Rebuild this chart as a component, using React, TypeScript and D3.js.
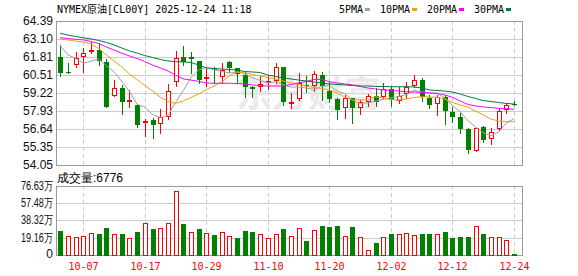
import React from 'react';
import * as d3 from 'd3';

const dates = [
  '10-02','10-03','10-06','10-07','10-08','10-09','10-10','10-13','10-14','10-15','10-16','10-17','10-20','10-21','10-22','10-23','10-24','10-27','10-28','10-29','10-30','10-31',
  '11-03','11-04','11-05','11-06','11-07','11-10','11-11','11-12','11-13','11-14','11-17','11-18','11-19','11-20','11-21','11-24','11-25','11-26','11-27','11-28',
  '12-01','12-02','12-03','12-04','12-05','12-08','12-09','12-10','12-11','12-12','12-15','12-16','12-17','12-18','12-19','12-22','12-23','12-24'
];
const opens = [61.83,60.75,61.23,61.78,62.14,62.31,61.47,59.03,59.56,58.60,58.34,57.04,57.28,56.97,57.52,59.99,61.78,61.78,61.52,60.20,60.92,60.35,61.45,60.99,60.51,59.67,59.67,59.92,60.08,61.08,58.50,58.77,59.79,59.74,60.51,59.36,58.77,58.12,58.84,58.12,58.60,59.00,58.95,59.49,58.65,59.15,59.74,60.15,58.88,58.41,58.91,57.88,57.48,56.64,55.08,56.76,55.90,56.66,58.00,58.41];
const highs = [62.67,61.40,62.16,62.47,62.88,62.83,61.64,60.15,59.79,59.44,58.43,57.33,57.40,58.05,59.87,62.24,62.60,62.14,61.54,60.99,61.11,61.40,61.52,61.04,60.75,59.72,60.44,60.51,61.35,61.11,59.20,60.64,60.44,60.82,60.75,60.03,58.84,59.08,58.88,58.72,59.13,59.60,59.96,59.72,59.67,60.03,60.51,60.28,59.08,59.08,59.08,58.19,57.76,56.69,56.76,56.85,56.69,58.12,58.52,58.65];
const lows = [60.46,60.64,61.11,60.75,62.10,61.23,58.22,59.02,57.69,58.24,56.80,56.13,55.97,56.37,57.33,59.72,61.23,60.68,59.92,59.74,59.92,59.96,60.75,59.92,58.95,58.91,59.36,59.51,59.92,58.36,58.16,58.75,59.31,59.36,58.72,58.60,57.35,57.45,57.09,57.69,58.29,58.29,58.88,58.31,58.48,58.84,59.67,58.65,58.12,57.64,56.99,57.16,56.37,54.93,55.06,55.72,55.56,56.56,57.76,58.34];
const closes = [60.68,60.71,61.71,62.07,62.31,61.54,58.24,59.56,58.60,58.72,56.92,57.21,56.92,57.52,59.36,61.71,61.47,61.64,60.15,60.35,60.87,60.87,61.04,60.58,59.63,59.51,59.87,60.08,61.11,58.55,58.60,59.92,59.72,60.56,59.74,58.79,58.00,58.84,58.12,58.60,59.00,58.60,59.49,58.72,59.03,59.67,60.15,58.91,58.36,58.91,57.95,57.52,56.64,55.13,56.69,55.85,56.44,57.93,58.36,58.36];
// volume in 万
const volumes = [26.78,20.83,19.72,20.83,24.18,23.44,30.13,23.06,23.44,18.60,25.67,35.34,29.02,29.76,35.34,71.05,34.60,25.30,29.02,24.18,22.32,25.30,20.83,18.97,26.78,25.67,23.06,18.60,23.06,29.02,20.83,29.76,15.62,27.53,32.36,31.25,32.36,20.83,31.25,19.72,5.21,13.39,19.72,23.44,23.44,24.55,21.95,23.44,23.44,23.44,25.67,18.97,20.09,20.09,32.36,23.44,19.72,19.72,16.37,0.68];
const volUp = [0,1,1,1,1,0,0,1,0,1,0,1,0,1,1,1,0,1,0,1,0,1,1,0,0,0,1,1,1,0,1,1,0,1,0,0,0,1,0,1,1,0,1,0,1,1,1,0,0,1,0,0,0,0,1,0,1,1,1,0];
const ma5Head = [62.60,61.95,61.71,61.35];
const ma10 = [63.10,63.03,62.95,62.88,62.74,62.42,61.95,61.52,61.09,60.58,60.19,59.76,59.36,58.93,58.61,58.48,58.65,58.90,59.15,59.47,59.72,60.01,60.44,60.73,60.66,60.55,60.44,60.33,60.23,60.08,59.94,59.83,59.72,59.62,59.54,59.44,59.22,58.93,58.72,58.72,58.72,58.95,58.86,58.75,58.72,58.79,58.90,58.95,58.93,58.91,58.79,58.54,58.36,58.22,57.93,57.64,57.35,57.21,57.16,57.16];
const ma20 = [63.19,63.13,63.08,63.03,62.92,62.77,62.52,62.31,62.07,61.88,61.70,61.47,61.23,61.02,60.80,60.51,60.23,60.15,60.05,59.94,59.92,59.92,59.92,59.90,59.87,59.80,59.76,59.72,59.72,59.72,59.83,59.94,60.05,60.19,60.20,60.03,59.94,59.87,59.80,59.69,59.58,59.51,59.44,59.40,59.36,59.31,59.29,59.26,59.22,59.20,59.08,58.91,58.65,58.40,58.29,58.22,58.17,58.12,58.09,58.05];
const ma30 = [63.51,63.38,63.28,63.18,63.10,62.99,62.85,62.67,62.45,62.24,62.09,61.91,61.77,61.63,61.52,61.47,61.45,61.41,61.23,61.02,60.98,60.94,60.91,60.87,60.76,60.73,60.69,60.51,60.41,60.30,60.23,60.15,60.08,60.01,59.94,59.87,59.83,59.80,59.76,59.72,59.72,59.69,59.69,59.67,59.67,59.67,59.65,59.58,59.44,59.40,59.36,59.29,59.15,58.97,58.83,58.68,58.61,58.54,58.47,58.43];
const priceTicks = [54.05,55.35,56.64,57.93,59.22,60.51,61.81,63.10,64.39];
const volTicks = [0,19.16,38.32,57.48,76.63];
const xTickDates = ['10-07','10-17','10-29','11-10','11-20','12-02','12-12','12-24'];
const legendItems = ['5PMA','10PMA','20PMA','30PMA'];
const legendColors = ['#a0a0a0','#f0a000','#ff00ff','#007a3d'];
const titleText = 'NYMEX原油[CL00Y] 2025-12-24 11:18';
const volTitle = '成交量:6776';
const watermark = '东方财富';

const W = 578, H = 276;
const L = 56, R = 522;
const mainTop = 21, mainBottom = 165;
const volTop = 186, volBottom = 255;
const RED = '#ff0000', GREEN = '#008000';
const MONO = "'DejaVu Sans Mono','Noto Sans CJK SC',monospace";
const SANS = "'Liberation Sans',Arial,sans-serif";

export default function App() {
  const x = d3.scaleBand<string>().domain(dates).range([56.4, 517.8]);
  const bw = x.bandwidth();
  const cx = (d: string) => Math.round((x(d) as number) + bw / 2);
  const y = d3.scaleLinear().domain([54.05, 64.39]).range([mainBottom, mainTop]);
  const yv = d3.scaleLinear().domain([0, 76.63]).range([volBottom, volTop]);

  const ma5 = closes.map((c, i) => i < 4 ? ma5Head[i] : d3.mean(closes.slice(i - 4, i + 1)) as number);
  const maSeries = [ma5, ma10, ma20, ma30];
  const line = d3.line<number>().x((_, i) => (x(dates[i]) as number) + bw / 2).y(v => y(v));

  const legendPos: number[] = [];
  let lx = 339;
  legendItems.forEach(t => { legendPos.push(lx); lx = lx + t.length * 6 + 2 + 5 + 10; });

  return (
    <svg width={W} height={H} style={{ position: 'absolute', left: 0, top: 0, background: '#fff' }}>
      <rect x={0} y={0} width={W} height={H} fill="#fff" />
      {/* title & legend */}
      <text x={57} y={13} fontFamily={MONO} fontSize={10} fill="#000">{titleText}</text>
      {legendItems.map((t, i) => (
        <g key={t}>
          <text x={legendPos[i]} y={13} fontFamily={MONO} fontSize={10} fill="#000">{t}</text>
          <rect x={legendPos[i] + t.length * 6 + 2} y={8} width={5} height={3} fill={legendColors[i]} />
        </g>
      ))}
      {/* main grid */}
      {priceTicks.slice(1, -1).map(t => (
        <line key={t} x1={L} x2={R} y1={Math.round(y(t)) + 0.5} y2={Math.round(y(t)) + 0.5} stroke="#cccccc" />
      ))}
      {xTickDates.map(d => (
        <g key={d}>
          <line x1={cx(d) + 0.5} x2={cx(d) + 0.5} y1={mainTop} y2={mainBottom} stroke="#cccccc" strokeDasharray="4,3" />
          <line x1={cx(d) + 0.5} x2={cx(d) + 0.5} y1={volTop} y2={volBottom} stroke="#cccccc" strokeDasharray="4,3" />
        </g>
      ))}
      {volTicks.slice(1, -1).map(t => (
        <line key={t} x1={L} x2={R} y1={Math.round(yv(t)) + 0.5} y2={Math.round(yv(t)) + 0.5} stroke="#cccccc" />
      ))}
      {/* watermark */}
      <text x={236} y={107} fontFamily="'Noto Sans CJK SC',sans-serif" fontWeight={700} fontSize={36} fill="#e4e4e4" opacity={0.75}>{watermark}</text>
      {/* frames */}
      <rect x={L + 0.5} y={mainTop + 0.5} width={R - L} height={mainBottom - mainTop} fill="none" stroke="#999999" />
      <rect x={L + 0.5} y={volTop + 0.5} width={R - L} height={volBottom - volTop} fill="none" stroke="#999999" />
      {/* y labels */}
      {priceTicks.map(t => (
        <text key={t} x={53} y={y(t)} textAnchor="end" dominantBaseline="central" fontFamily={SANS} fontSize={12} fill="#111">{t.toFixed(2)}</text>
      ))}
      {volTicks.map(t => (
        t === 0 ? (
          <text key={t} x={53} y={yv(t) - 1} textAnchor="end" dominantBaseline="central" fontFamily={SANS} fontSize={12} fill="#111">0</text>
        ) : (
          <text key={t} x={53} y={yv(t)} textAnchor="end" dominantBaseline="central" fontFamily={SANS} fontSize={12} fill="#111" textLength={32} lengthAdjust="spacingAndGlyphs">{t.toFixed(2) + '万'}</text>
        )
      ))}
      <text x={57} y={182} fontFamily={SANS} fontSize={12} fill="#000">{volTitle}</text>
      {/* candles */}
      {dates.map((d, i) => {
        const c = cx(d);
        const o = opens[i], cl = closes[i];
        const up = cl >= o;
        const top = Math.round(y(Math.max(o, cl)));
        const bot = Math.round(y(Math.min(o, cl)));
        const hi = Math.round(y(highs[i]));
        const lo = Math.round(y(lows[i]));
        const col = up ? RED : GREEN;
        const h = Math.max(1, bot - top);
        return (
          <g key={d}>
            <line x1={c + 0.5} x2={c + 0.5} y1={hi} y2={lo + 1} stroke={col} />
            {up ? (
              <rect x={c - 1.5} y={top + 0.5} width={4} height={Math.max(1, h - 1)} fill="#fff" stroke={col} />
            ) : (
              <rect x={c - 2} y={top} width={5} height={h} fill={col} />
            )}
          </g>
        );
      })}
      {/* MA lines */}
      {maSeries.map((s, k) => (
        <path key={k} d={line(s) as string} fill="none" stroke={legendColors[k]} strokeWidth={1} />
      ))}
      {/* volume bars */}
      {dates.map((d, i) => {
        const c = cx(d);
        const top = Math.round(yv(volumes[i]));
        const h = Math.max(1, volBottom - top);
        return volUp[i] ? (
          <rect key={d} x={c - 1.5} y={top + 0.5} width={4} height={h} fill="#fff" stroke={RED} />
        ) : (
          <rect key={d} x={c - 2} y={top} width={5} height={h + 1} fill={GREEN} />
        );
      })}
      {/* x labels */}
      {xTickDates.map(d => (
        <text key={d} x={cx(d) + 0.5} y={270} textAnchor="middle" fontFamily={MONO} fontSize={10} fill={RED}>{d}</text>
      ))}
    </svg>
  );
}
